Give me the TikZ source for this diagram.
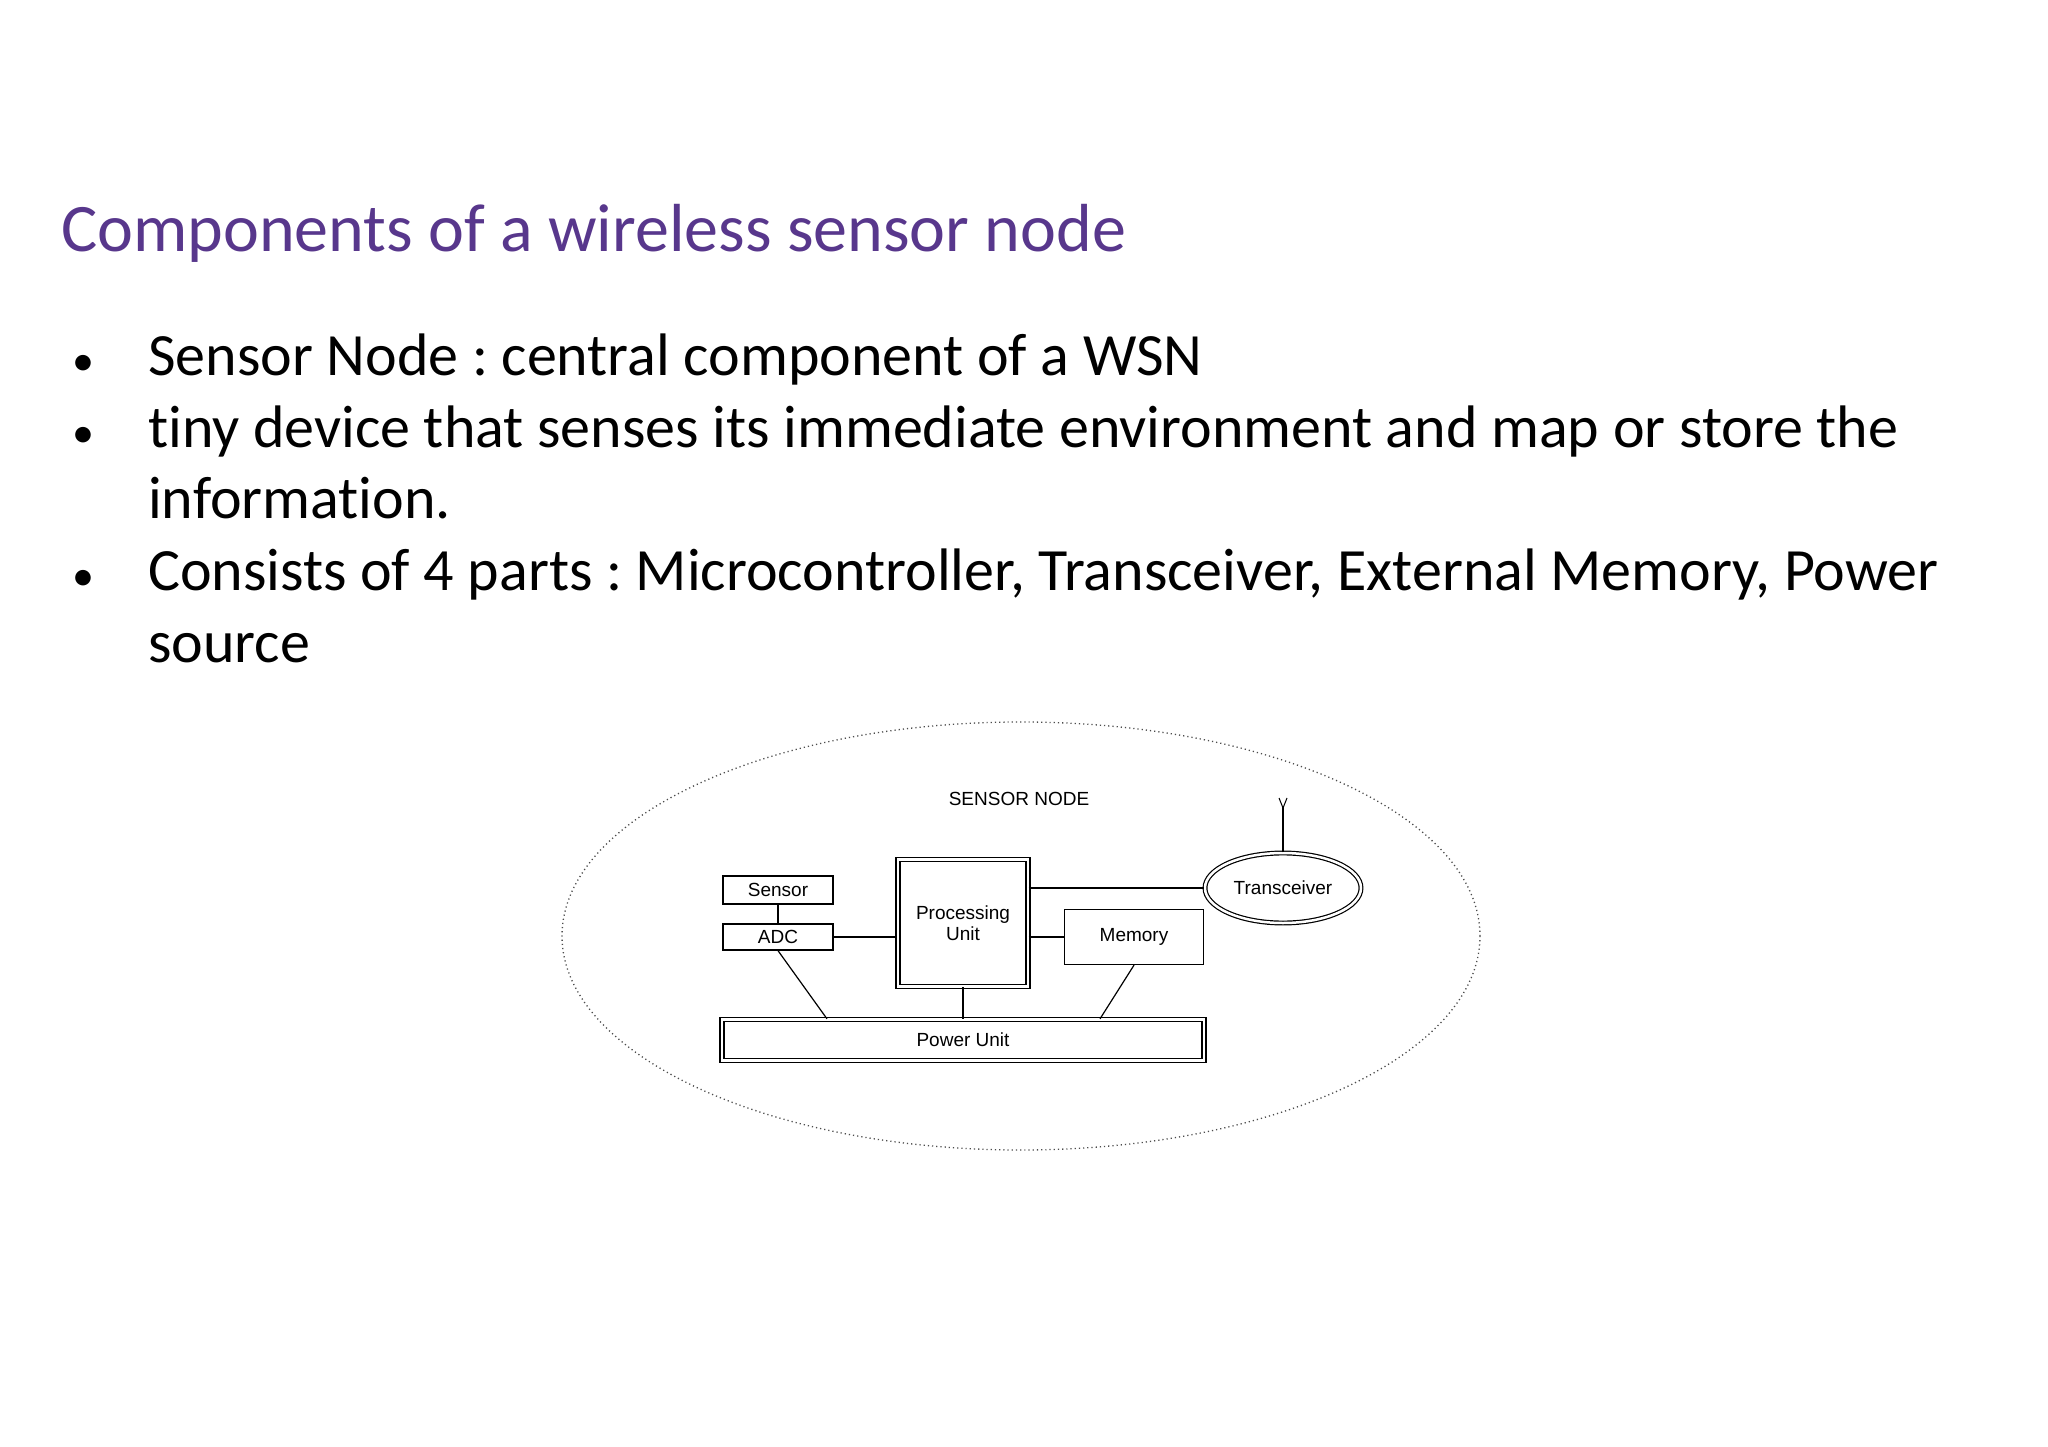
\documentclass[tikz,border=0pt]{standalone}
\usetikzlibrary{shapes.geometric}
\usepackage{fontspec}
\setmainfont{Carlito}[Ligatures=NoCommon]
\newfontfamily\diag{Liberation Sans}
\definecolor{ttl}{HTML}{58378C}
\begin{document}
\frenchspacing
\begin{tikzpicture}[x=1pt,y=-1pt,
  box/.style={draw,line width=1.3pt,inner sep=0pt,font=\diag\fontsize{19}{21}\selectfont},
  dbox/.style={box,double,double distance=2.5pt},
  ln/.style={line width=1.2pt},
  bul/.style={anchor=base west,inner sep=0pt,font=\fontsize{60}{70}\selectfont}]
\useasboundingbox (0,0) rectangle (2048,1447);
\node[anchor=base west,inner sep=0pt,text=ttl,font=\fontsize{68}{80}\selectfont] (title) at (61,252) {Components of a wireless sensor node};
\foreach \y/\n in {375/b1,447/b2,590/b3}{\node[bul,font=\fontsize{44}{50}\selectfont] (\n) at (72,\y) {•};}
\node[bul] (t1) at (148,375) {Sensor Node : central component of a WSN};
\node[bul] (t2) at (148,447) {tiny device that senses its immediate environment and map or store the};
\node[bul] (t3) at (148,518) {information.};
\node[bul] (t4) at (148,590) {Consists of 4 parts : Microcontroller, Transceiver, External Memory, Power};
\node[bul] (t5) at (148,662) {source};
% diagram
\node[draw,dash pattern=on 1.2pt off 3pt,line width=1.3pt,gray!60!black,ellipse,minimum width=918,minimum height=428,inner sep=0pt] (big) at (1021,936) {};
\node[font=\diag\fontsize{19}{21}\selectfont] (lab) at (1019,799) {SENSOR NODE};
\node[box,minimum width=110,minimum height=28] (sen) at (778,890) {Sensor};
\node[box,minimum width=110,minimum height=26] (adc) at (778,937) {ADC};
\node[dbox,minimum width=130,minimum height=127,align=center] (pu) at (963,923) {Processing\\Unit};
\node[box,minimum width=139,minimum height=55] (mem) at (1134,937) {Memory};
\node[draw,ellipse,line width=1.2pt,double,double distance=2.5pt,minimum width=156,minimum height=70,inner sep=0pt,font=\diag\fontsize{19}{21}\selectfont] (tr) at (1283,888) {Transceiver};
\node[dbox,minimum width=482,minimum height=41] (pow) at (963,1040) {Power Unit};
\coordinate (ant) at (1283,806);
\draw[ln] (tr.north) -- (ant);
\draw[line width=1pt] (1279,798) -- (1283,808) -- (1287,798);
\draw[ln] (sen) -- (adc);
\draw[ln] (adc.east) -- (pu.west |- adc.east);
\draw[ln] (pu.east |- mem.west) -- (mem.west);
\draw[ln] (pu.east |- tr.west) -- (tr.west);
\draw[ln] (adc.south) -- (pow.north -| 827,0);
\draw[ln] (pu.south) -- (pu.south |- pow.north);
\draw[ln] (mem.south) -- (pow.north -| 1100,0);
\end{tikzpicture}
\end{document}
